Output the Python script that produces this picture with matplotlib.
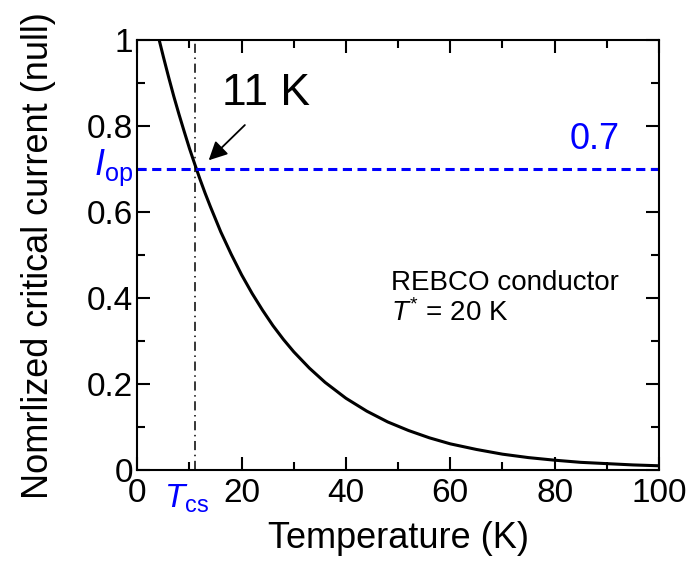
import matplotlib
matplotlib.use('Agg')
import matplotlib.pyplot as plt
from matplotlib.ticker import MultipleLocator

temp = [4.2, 5, 6, 7, 8, 9, 10, 11, 12, 13, 14, 16, 18, 20, 22, 24, 26, 28, 30,
        33, 36, 40, 44, 48, 52, 56, 60, 65, 70, 75, 80, 85, 90, 95, 100]
ic = [1.0, 0.961, 0.914, 0.869, 0.827, 0.787, 0.748, 0.712, 0.677, 0.644, 0.613,
      0.554, 0.502, 0.454, 0.411, 0.372, 0.336, 0.304, 0.275, 0.237, 0.204, 0.167,
      0.137, 0.112, 0.092, 0.075, 0.061, 0.048, 0.037, 0.029, 0.023, 0.018,
      0.015, 0.012, 0.010]

t_cs = 11
i_op = 0.7
x_ticks = [0, 20, 40, 60, 80, 100]
y_ticks = [0, 0.2, 0.4, 0.6, 0.8, 1]
y_tick_labels = ['0', '0.2', '0.4', '0.6', '0.8', '1']

plt.rcParams['font.family'] = ['Liberation Sans', 'DejaVu Sans']
plt.rcParams['mathtext.fontset'] = 'custom'
plt.rcParams['mathtext.rm'] = 'Liberation Sans'
plt.rcParams['mathtext.it'] = 'Liberation Sans:italic'

fig = plt.figure(figsize=(6.9, 5.65), dpi=100)
ax = fig.add_axes([0.199, 0.168, 0.756, 0.761])

ax.plot(temp, ic, color='black', lw=2.2)
ax.axhline(i_op, color='blue', lw=2.2, ls=(0, (3, 1.8)))
ax.plot([t_cs, t_cs], [0, 1], color='black', lw=1.1, ls=(0, (6, 3, 1, 3)))

ax.set_xlim(0, 100)
ax.set_ylim(0, 1)
ax.set_xticks(x_ticks)
ax.set_yticks(y_ticks)
ax.set_yticklabels(y_tick_labels)
ax.xaxis.set_minor_locator(MultipleLocator(10))
ax.yaxis.set_minor_locator(MultipleLocator(0.1))
ax.tick_params(which='both', direction='in', top=True, right=True, labelsize=24, width=1.5)
ax.tick_params(which='major', length=9.5)
ax.tick_params(which='minor', length=6)
ax.tick_params(axis='x', which='major', pad=6)
ax.tick_params(axis='y', which='major', pad=3)
for s in ax.spines.values():
    s.set_linewidth(1.5)

ax.set_xlabel('Temperature (K)', fontsize=26, labelpad=8)
ax.set_ylabel('Nomrlized critical current (null)', fontsize=26, labelpad=22)

ax.annotate('', xy=(13.3, 0.716), xytext=(21.0, 0.807),
            arrowprops=dict(arrowstyle='-|>', color='black', lw=1.3, mutation_scale=28))
ax.text(16.2, 0.877, '11 K', fontsize=32, ha='left', va='center')
ax.text(92.5, 0.77, '0.7', fontsize=26, color='blue', ha='right', va='center')
ax.text(48.6, 0.435, 'REBCO conductor', fontsize=20, ha='left', va='center')
ax.text(48.6, 0.365, r'$T^{*}$ = 20 K', fontsize=20, ha='left', va='center')

ax.text(-0.8, 0.686, r'$I_{\mathrm{op}}$', fontsize=26, color='blue',
        ha='right', va='baseline')
ax.text(5.2, -0.03, r'$T_{\mathrm{cs}}$', fontsize=24, color='blue',
        ha='left', va='top')

fig.savefig('out.png', dpi=100)
